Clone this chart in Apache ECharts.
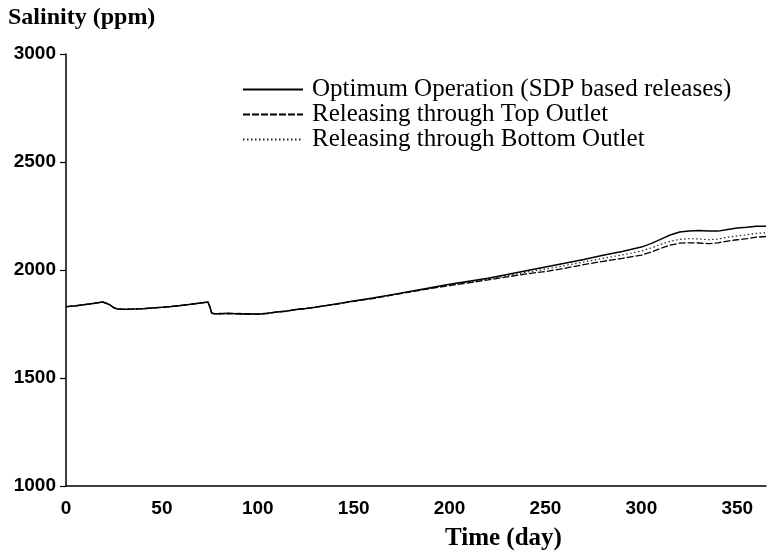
<!DOCTYPE html>
<html>
<head>
<meta charset="utf-8">
<script src="https://cdn.jsdelivr.net/npm/echarts@6/dist/echarts.min.js"></script>
<style>
html,body{margin:0;padding:0;background:#fff;}
#chart{width:770px;height:557px;}
</style>
</head>
<body>
<div id="chart"></div>
<script>
const seriesNames = ['Optimum Operation (SDP based releases)', 'Releasing through Top Outlet', 'Releasing through Bottom Outlet'];
const days = [0,5,10,15,19,21,23,25,27,30,35,40,45,50,55,60,65,70,74,75,76,78,80,85,90,95,100,105,110,115,120,125,130,140,150,160,170,180,190,200,210,220,230,240,250,260,270,280,290,300,305,310,315,320,325,330,335,340,345,350,355,360,365];
const optimum = [1830,1834,1840,1846,1852,1846,1838,1825,1819,1818,1819,1821,1824,1827,1831,1836,1841,1847,1852,1830,1800,1797,1798,1800,1796,1797,1795,1800,1805,1810,1817,1822,1828,1842,1856,1870,1886,1902,1918,1934,1948,1962,1979,1997,2014,2031,2049,2068,2086,2106,2122,2142,2162,2176,2181,2183,2180,2180,2188,2194,2198,2203,2203];
const topOutlet = [1830,1834,1840,1846,1852,1846,1838,1825,1819,1818,1819,1821,1824,1827,1831,1836,1841,1847,1852,1830,1800,1795,1799,1797,1799,1795,1797,1798,1806,1808,1818,1820,1829,1840,1855,1868,1884,1899,1914,1928,1941,1954,1968,1982,1993,2008,2025,2040,2054,2069,2083,2100,2115,2124,2126,2125,2122,2126,2134,2140,2145,2152,2155];
const bottomOutlet = [1830,1834,1840,1846,1852,1846,1838,1825,1819,1818,1819,1821,1824,1827,1831,1836,1841,1847,1852,1830,1800,1798,1796,1801,1795,1798,1794,1801,1804,1811,1816,1823,1827,1841,1857,1869,1885,1901,1916,1931,1945,1958,1974,1990,2004,2020,2037,2054,2070,2088,2102,2118,2133,2142,2145,2144,2140,2143,2152,2158,2163,2170,2172];
const yTicks = [1000,1500,2000,2500,3000];
const xTicks = [0,50,100,150,200,250,300,350];

function pairs(vals){ return days.map((d,i)=>[d, vals[i]]); }

const chart = echarts.init(document.getElementById('chart'), null, {renderer:'canvas'});
const serif = '"Liberation Serif", "Times New Roman", serif';
const sans = '"Liberation Sans", Arial, sans-serif';
chart.setOption({
  animation:false,
  backgroundColor:'#fff',
  grid:{left:66, right:4, top:54, bottom:71, containLabel:false},
  legend:{
    orient:'vertical', left:237, top:72, itemWidth:60, itemHeight:14, itemGap:0,
    data: seriesNames,
    itemStyle:{opacity:0},
    textStyle:{fontFamily:serif, fontSize:25, color:'#000', lineHeight:25, padding:[0,0,0,4]}
  },
  graphic:[
    {type:'text', left:8, top:6, style:{text:'Salinity (ppm)', font:'bold 24px ' + serif, fill:'#000'}},
    {type:'text', left:445, top:526, style:{text:'Time (day)', font:'bold 25px ' + serif, fill:'#000'}}
  ],
  xAxis:{
    type:'value', min:0, max:365, interval:50,
    axisLine:{show:true, lineStyle:{color:'#000', width:1.5}},
    axisTick:{show:false},
    splitLine:{show:false},
    axisLabel:{margin:13, color:'#000', fontFamily:sans, fontWeight:'bold', fontSize:19,
      formatter:v => xTicks.indexOf(v) >= 0 ? String(v) : ''}
  },
  yAxis:{
    type:'value', min:1000, max:3000, interval:500,
    axisLine:{show:true, lineStyle:{color:'#000', width:1.5}},
    axisTick:{show:true, length:6, lineStyle:{color:'#000', width:1.2}},
    splitLine:{show:false},
    axisLabel:{margin:10, color:'#000', fontFamily:sans, fontWeight:'bold', fontSize:19,
      formatter:v => yTicks.indexOf(v) >= 0 ? String(v) : ''}
  },
  series:[
    {name:seriesNames[0], type:'line', data:pairs(optimum), showSymbol:false, symbol:'none', z:3,
     lineStyle:{color:'#000', width:1.5, type:'solid'}, itemStyle:{color:'#000'}},
    {name:seriesNames[1], type:'line', data:pairs(topOutlet), showSymbol:false, symbol:'none', z:2,
     lineStyle:{color:'#000', width:1.3, type:[7,2]}, itemStyle:{color:'#000'}},
    {name:seriesNames[2], type:'line', data:pairs(bottomOutlet), showSymbol:false, symbol:'none', z:1,
     lineStyle:{color:'#222', width:1.2, type:[1.5,2.5]}, itemStyle:{color:'#000'}}
  ]
});
</script>
</body>
</html>
